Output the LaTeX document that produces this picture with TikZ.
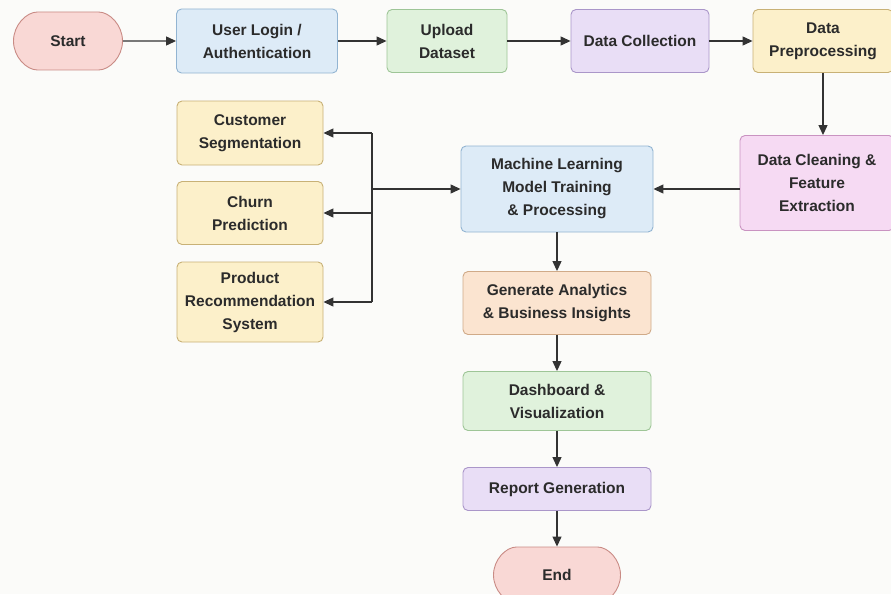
\documentclass[tikz,border=0pt]{standalone}
\usepackage{fontspec}
\setmainfont{Liberation Sans}
\usetikzlibrary{arrows.meta,shapes.misc}

\definecolor{bgpaper}{HTML}{FBFBF9}
\definecolor{inkgray}{HTML}{2B2B2B}
\definecolor{linegray}{HTML}{333333}
\definecolor{pinkfill}{HTML}{F9D8D5}
\definecolor{pinkline}{HTML}{C98B85}
\definecolor{bluefill}{HTML}{DDEBF7}
\definecolor{blueline}{HTML}{92B4D2}
\definecolor{greenfill}{HTML}{E0F2DC}
\definecolor{greenline}{HTML}{9EC597}
\definecolor{lilacfill}{HTML}{E9DEF6}
\definecolor{lilacline}{HTML}{AA96C9}
\definecolor{yellowfill}{HTML}{FCF0CA}
\definecolor{yellowline}{HTML}{C8B176}
\definecolor{orchidfill}{HTML}{F6DAF3}
\definecolor{orchidline}{HTML}{C993C1}
\definecolor{peachfill}{HTML}{FBE4D0}
\definecolor{peachline}{HTML}{D0AA88}

\tikzset{
  stepbox/.style={draw, rounded corners=5pt, line width=0.9pt, align=center,
    text=inkgray, inner sep=2pt, font=\bfseries\fontsize{15.5}{23}\selectfont},
  term/.style={stepbox, rounded rectangle, fill=pinkfill, draw=pinkline},
  blue/.style={stepbox, fill=bluefill, draw=blueline},
  green/.style={stepbox, fill=greenfill, draw=greenline},
  lilac/.style={stepbox, fill=lilacfill, draw=lilacline},
  yellow/.style={stepbox, fill=yellowfill, draw=yellowline},
  orchid/.style={stepbox, fill=orchidfill, draw=orchidline},
  peach/.style={stepbox, fill=peachfill, draw=peachline},
  flow/.style={draw=linegray, line width=1.2pt, -{Triangle[length=10pt,width=9pt]}},
}

\begin{document}
\begin{tikzpicture}[x=1pt,y=-1pt]
\fill[bgpaper] (0,0) rectangle (891,594);
\useasboundingbox (0,0) rectangle (891,594);

% top row
\node[term, minimum width=113pt, minimum height=58pt] (start) at (68,41) {Start};
\node[blue, minimum width=161pt, minimum height=64pt] (login) at (257,41) {User Login /\\Authentication};
\node[green, minimum width=120pt, minimum height=63pt] (upload) at (447,41) {Upload\\Dataset};
\node[lilac, minimum width=138pt, minimum height=63pt] (collect) at (640,41) {Data Collection};
\node[yellow, minimum width=140pt, minimum height=63pt] (prep) at (823,41) {Data\\Preprocessing};

% right and centre column
\node[orchid, minimum width=154pt, minimum height=95pt] (clean) at (817,183) {Data Cleaning \&\\Feature\\Extraction};
\node[blue, minimum width=192pt, minimum height=86pt] (mltrain) at (557,189) {Machine Learning\\Model Training\\\& Processing};
\node[peach, minimum width=188pt, minimum height=63pt] (insight) at (557,303) {Generate Analytics\\\& Business Insights};
\node[green, minimum width=188pt, minimum height=59pt] (dash) at (557,401) {Dashboard \&\\Visualization};
\node[lilac, minimum width=188pt, minimum height=43pt] (report) at (557,489) {Report Generation};
\node[term, minimum width=131pt, minimum height=56pt] (finish) at (557,575) {End};

% left outputs
\node[yellow, minimum width=146pt, minimum height=64pt] (segment) at (250,133) {Customer\\Segmentation};
\node[yellow, minimum width=146pt, minimum height=63pt] (churn) at (250,213) {Churn\\Prediction};
\node[yellow, minimum width=146pt, minimum height=80pt] (recommend) at (250,302) {Product\\Recommendation\\System};

\coordinate (bustop) at (372,133);
\coordinate (busmid) at (372,189);
\coordinate (busbot) at (372,302);

\draw[flow] (start) -- (login);
\draw[flow] (login) -- (upload);
\draw[flow] (upload) -- (collect);
\draw[flow] (collect) -- (prep);
\draw[flow] (prep.south) -- (prep.south |- clean.north);
\draw[flow] (clean.west |- mltrain) -- (mltrain.east);
\draw[flow] (mltrain) -- (insight);
\draw[flow] (insight) -- (dash);
\draw[flow] (dash) -- (report);
\draw[flow] (report) -- (finish);

\draw[draw=linegray, line width=1.2pt] (bustop) -- (busbot);
\draw[flow] (busmid) -- (mltrain.west);
\draw[flow] (bustop) -- (segment.east);
\draw[flow] (churn.east -| busmid) -- (churn.east);
\draw[flow] (busbot) -- (recommend.east);
\end{tikzpicture}
\end{document}
